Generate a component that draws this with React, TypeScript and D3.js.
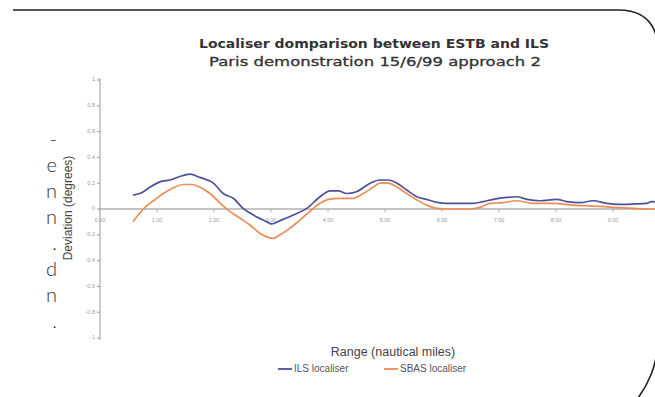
import React from "react";
import * as d3 from "d3";

// Range (nautical miles) and localiser deviation (degrees) for each receiver
const ilsRange = [0.58, 0.73, 0.88, 1.05, 1.23, 1.46, 1.58, 1.75, 1.99, 2.16, 2.34, 2.51, 2.69, 2.92, 3.01, 3.16, 3.39, 3.63, 3.86, 4.04, 4.18, 4.33, 4.5, 4.74, 4.91, 5.06, 5.21, 5.38, 5.56, 5.73, 5.91, 6.08, 6.32, 6.55, 6.72, 6.9, 7.14, 7.31, 7.49, 7.72, 8.01, 8.19, 8.42, 8.65, 8.89, 9.12, 9.36, 9.59, 9.68, 9.82];
const ilsDeviation = [0.108, 0.126, 0.17, 0.21, 0.225, 0.26, 0.27, 0.245, 0.2, 0.12, 0.083, 0.005, -0.047, -0.098, -0.116, -0.09, -0.047, 0.005, 0.095, 0.14, 0.14, 0.12, 0.134, 0.2, 0.225, 0.225, 0.2, 0.147, 0.095, 0.075, 0.052, 0.044, 0.044, 0.044, 0.057, 0.075, 0.09, 0.095, 0.075, 0.064, 0.075, 0.057, 0.049, 0.064, 0.044, 0.036, 0.039, 0.044, 0.057, 0.05];

const sbasRange = [0.58, 0.67, 0.79, 0.94, 1.11, 1.29, 1.46, 1.61, 1.75, 1.93, 2.11, 2.28, 2.46, 2.63, 2.81, 2.95, 3.04, 3.16, 3.33, 3.51, 3.68, 3.86, 4.01, 4.21, 4.44, 4.62, 4.79, 4.91, 5.06, 5.21, 5.38, 5.56, 5.73, 5.91, 6.14, 6.49, 6.67, 6.84, 7.07, 7.31, 7.6, 7.95, 8.3, 8.65, 9.01, 9.36, 9.68, 9.82];
const sbasDeviation = [-0.098, -0.047, 0.013, 0.064, 0.12, 0.165, 0.19, 0.19, 0.17, 0.12, 0.044, -0.02, -0.072, -0.124, -0.19, -0.22, -0.227, -0.2, -0.15, -0.085, -0.02, 0.044, 0.075, 0.083, 0.083, 0.12, 0.168, 0.2, 0.2, 0.17, 0.12, 0.07, 0.03, 0.005, 0, 0, 0.013, 0.044, 0.049, 0.064, 0.044, 0.044, 0.03, 0.023, 0.013, 0.005, 0, 0.005];

const yTicks = [1, 0.8, 0.6, 0.4, 0.2, 0, -0.2, -0.4, -0.6, -0.8, -1];
const yTickLabels = ["1", "0.8", "0.6", "0.4", "0.2", "0", "-0.2", "-0.4", "-0.6", "-0.8", "-1"];
const xTicks = [0, 1, 2, 3, 4, 5, 6, 7, 8, 9];
const xTickLabels = ["0.00", "1.00", "2.00", "3.00", "4.00", "5.00", "6.00", "7.00", "8.00", "9.00"];

const titleLines = ["Localiser domparison between ESTB and ILS", "Paris demonstration 15/6/99 approach 2"];
const seriesNames = ["ILS localiser", "SBAS localiser"];
const seriesColors = ["#4d519a", "#ec8d55"];

// Line ends of the neighbouring text column
const sideText = ["-", "e", "n", "n", ".", "d", "n", "."];

export default function App() {
  const W = 655;
  const H = 397;
  const x = d3.scaleLinear().domain([0, 10]).range([100, 670]);
  const y = d3.scaleLinear().domain([-1, 1]).range([338, 80]);

  const line = d3
    .line<[number, number]>()
    .x((d) => x(d[0]))
    .y((d) => y(d[1]))
    .curve(d3.curveMonotoneX);

  const ils = ilsRange.map((r, i) => [r, ilsDeviation[i]] as [number, number]);
  const sbas = sbasRange.map((r, i) => [r, sbasDeviation[i]] as [number, number]);

  const sans = "'Liberation Sans', Arial, sans-serif";
  const titleFont = "'DejaVu Sans', Verdana, sans-serif";

  return (
    <div style={{ position: "fixed", left: 0, top: 0, width: W, height: H, background: "#fff" }}>
      <svg width={W} height={H} viewBox={`0 0 ${W} ${H}`} style={{ display: "block" }}>
        <rect width={W} height={H} fill="#fff" />

        {/* rounded frame */}
        <path
          d="M13,10 H618 Q656,10 658,48 V338 A100,100 0 0 1 558,438"
          fill="none"
          stroke="#222"
          strokeWidth={1.6}
        />

        {/* neighbouring column fragments */}
        {sideText.map((c, i) => (
          <text
            key={i}
            x={57}
            y={146 + i * 26}
            textAnchor="end"
            fontFamily="Lato, 'Liberation Sans', sans-serif"
            fontWeight={300}
            fontSize={20}
            fill="#333"
          >
            {c}
          </text>
        ))}

        {/* title */}
        <text
          x={374}
          y={48}
          textAnchor="middle"
          fontFamily={titleFont}
          fontWeight="bold"
          fontSize={11.5}
          fill="#333"
          textLength={350}
          lengthAdjust="spacingAndGlyphs"
        >
          {titleLines[0]}
        </text>
        <text
          x={375}
          y={66}
          textAnchor="middle"
          fontFamily={titleFont}
          fontSize={12.5}
          fill="#333"
          stroke="#333"
          strokeWidth={0.3}
          textLength={332}
          lengthAdjust="spacingAndGlyphs"
        >
          {titleLines[1]}
        </text>

        {/* y axis */}
        <line x1={x(0)} x2={x(0)} y1={y(1) - 2} y2={y(-1) + 2} stroke="#9a9a9a" strokeWidth={1} />
        {yTicks.map((t, i) => (
          <g key={t}>
            <line x1={x(0) - 3} x2={x(0)} y1={y(t)} y2={y(t)} stroke="#9a9a9a" strokeWidth={1} />
            <text
              x={x(0) - 5}
              y={y(t)}
              textAnchor="end"
              dominantBaseline="middle"
              fontFamily={sans}
              fontSize={5.5}
              fill="#9a9a9a"
            >
              {yTickLabels[i]}
            </text>
          </g>
        ))}

        {/* zero line with range ticks */}
        <line x1={x(0)} x2={W} y1={y(0)} y2={y(0)} stroke="#8a8a8a" strokeWidth={1.2} />
        {xTicks.map((t, i) => (
          <g key={t}>
            <line x1={x(t)} x2={x(t)} y1={y(0)} y2={y(0) + 3} stroke="#aaa" strokeWidth={1} />
            <text
              x={x(t)}
              y={y(0) + 12}
              textAnchor="middle"
              dominantBaseline="middle"
              fontFamily={sans}
              fontSize={5.5}
              fill="#9a9a9a"
            >
              {xTickLabels[i]}
            </text>
          </g>
        ))}

        {/* series */}
        <path d={line(sbas) ?? ""} fill="none" stroke={seriesColors[1]} strokeWidth={1.7} />
        <path d={line(ils) ?? ""} fill="none" stroke={seriesColors[0]} strokeWidth={1.7} />

        {/* axis titles */}
        <text
          transform={`translate(69,208) rotate(-90)`}
          textAnchor="middle"
          dominantBaseline="middle"
          fontFamily={sans}
          fontSize={12}
          fill="#444"
        >
          Deviation (degrees)
        </text>
        <text x={393} y={356} textAnchor="middle" fontFamily={sans} fontSize={12.5} fill="#444">
          Range (nautical miles)
        </text>

        {/* legend */}
        {seriesNames.map((name, i) => {
          const lx = [278, 384][i];
          return (
            <g key={name}>
              <line x1={lx} x2={lx + 14} y1={369} y2={369} stroke={seriesColors[i]} strokeWidth={1.8} />
              <text
                x={lx + 16}
                y={369}
                dominantBaseline="middle"
                fontFamily={sans}
                fontSize={10}
                fill="#555"
              >
                {name}
              </text>
            </g>
          );
        })}
      </svg>
    </div>
  );
}
